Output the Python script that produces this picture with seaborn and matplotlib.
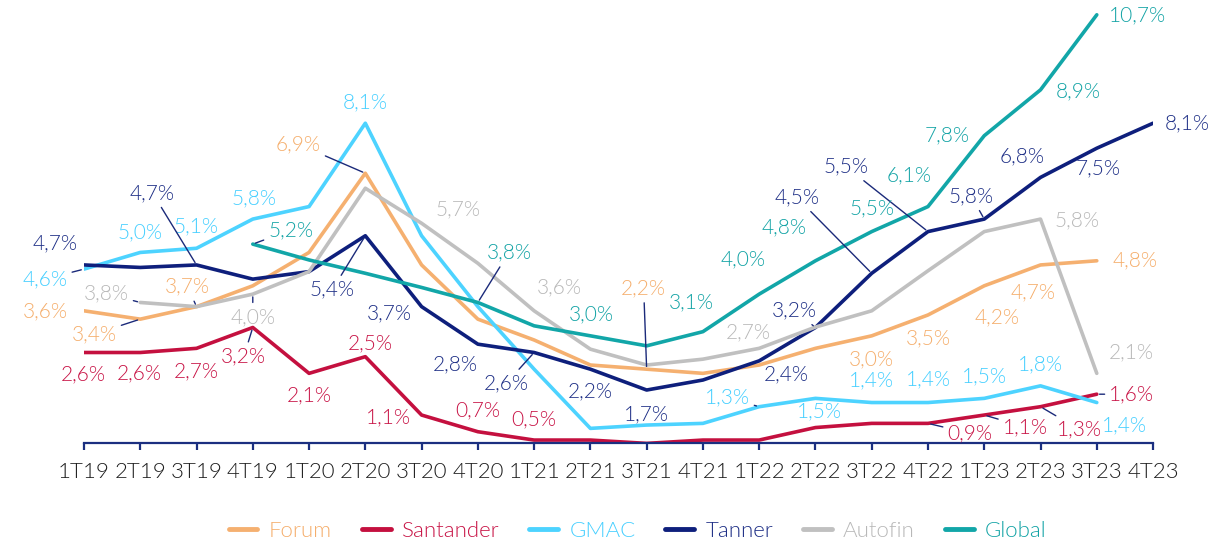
import numpy as np
import pandas as pd
import matplotlib
matplotlib.use("Agg")
import matplotlib.pyplot as plt
import seaborn as sns

# ================= datos =================
quarters = ["1T19", "2T19", "3T19", "4T19", "1T20", "2T20", "3T20", "4T20",
            "1T21", "2T21", "3T21", "4T21", "1T22", "2T22", "3T22", "4T22",
            "1T23", "2T23", "3T23", "4T23"]
nan = np.nan
forum = [3.6, 3.4, 3.7, 4.2, 5.0, 6.9, 4.7, 3.4, 2.9, 2.3, 2.2, 2.1,
         2.3, 2.7, 3.0, 3.5, 4.2, 4.7, 4.8, nan]
santander = [2.6, 2.6, 2.7, 3.2, 2.1, 2.5, 1.1, 0.7, 0.5, 0.5, 0.42, 0.5,
             0.5, 0.8, 0.9, 0.9, 1.1, 1.3, 1.6, nan]
gmac = [4.6, 5.0, 5.1, 5.8, 6.1, 8.1, 5.4, 3.7, 2.2, 0.78, 0.86, 0.9,
        1.3, 1.5, 1.4, 1.4, 1.5, 1.8, 1.4, nan]
tanner = [4.7, 4.64, 4.7, 4.36, 4.54, 5.4, 3.7, 2.8, 2.6, 2.2, 1.7, 1.94,
          2.4, 3.2, 4.5, 5.5, 5.8, 6.8, 7.5, 8.1]
autofin = [nan, 3.8, 3.7, 4.0, 4.54, 6.54, 5.7, 4.74, 3.6, 2.68, 2.3, 2.44,
           2.7, 3.21, 3.6, 4.56, 5.5, 5.8, 2.1, nan]
global_ = [nan, nan, nan, 5.2, 4.82, 4.5, 4.16, 3.8, 3.24, 3.0, 2.76, 3.1,
           4.0, 4.8, 5.5, 6.1, 7.8, 8.9, 10.7, nan]

series = ["Forum", "Santander", "GMAC", "Tanner", "Autofin", "Global"]
values = [forum, santander, gmac, tanner, autofin, global_]
colors = ["#F5B070", "#C4103F", "#4DD3FF", "#0E1F7C", "#C0C0C0", "#12A6A8"]
text_colors = ["#F5AE6C", "#C81446", "#45CFFF", "#1E2F86", "#B8B8B8", "#12A3A5"]
LEADER = "#1B2A7A"
W = 300  # Lato Light

# etiquetas: (indice, dx, dy, linea guia)  -- desplazamientos en pixeles
label_pos = {
    "Forum": [(0, -39, 0, 0), (1, -46, -15, 1), (2, -9, 20, 1), (5, -67, 29, 1),
              (10, -3, 81, 1), (14, 0, -23, 0), (15, 0, -23, 0), (16, 13, -32, 0),
              (17, -7, -27, 0), (18, 38, 0, 0)],
    "Santander": [(0, -1, -22, 0), (1, -1, -21, 0), (2, 0, -23, 0), (3, -9, -29, 1),
                  (4, 0, -22, 0), (5, 5, 13, 0), (6, -33, -2, 0), (7, 0, 21, 0),
                  (8, 0, 21, 0), (15, 42, -10, 1), (16, 41, -12, 1), (17, 39, -23, 1),
                  (18, 35, 0, 1)],
    "GMAC": [(0, -39, -10, 1), (1, 0, 20, 0), (2, 0, 22, 0), (3, 1, 21, 0),
             (5, 0, 21, 0), (12, -32, 9, 1), (13, 4, -13, 0), (14, 0, 22, 0),
             (15, 0, 23, 0), (16, 0, 22, 0), (17, 0, 22, 0), (18, 28, -23, 0)],
    "Tanner": [(0, -29, 22, 0), (2, -44, 72, 1), (5, -33, -54, 1), (6, -32, -7, 0),
               (7, -23, -20, 0), (8, -28, -31, 1), (9, 0, -22, 0), (10, 0, -24, 0),
               (12, 27, -13, 0), (13, -21, 17, 1), (14, -75, 76, 1), (15, -82, 65, 1),
               (16, -13, 23, 1), (17, -18, 21, 0), (18, 1, -20, 0), (19, 34, 0, 0)],
    "Autofin": [(1, -34, 9, 1), (3, 0, -23, 1), (6, 36, 14, 0), (8, 25, 24, 0),
                (12, -11, 16, 0), (17, 37, -1, 0), (18, 34, 21, 0)],
    "Global": [(3, 38, 14, 1), (7, 31, 50, 1), (9, 1, 22, 0), (11, -12, 29, 0),
               (12, -16, 35, 0), (13, -31, 33, 0), (14, 0, 23, 0), (15, -19, 31, 0),
               (16, -37, 0, 0), (17, 38, -1, 0), (18, 41, -1, 0)],
}


def fmt(v):
    return f"{v:.1f}".replace(".", ",") + "%"


sns.set_style("white")
plt.rcParams["font.family"] = ["Lato", "DejaVu Sans"]

rows = []
for name, vals in zip(series, values):
    for i, v in enumerate(vals):
        rows.append({"pos": i, "valor": v, "serie": name})
df = pd.DataFrame(rows).dropna()

fig = plt.figure(figsize=(12.19, 5.45), dpi=100)
ax = fig.add_axes([0.0689, 0.1872, 0.877, 0.8086])

sns.lineplot(data=df, x="pos", y="valor", hue="serie", hue_order=series,
             palette=dict(zip(series, colors)), linewidth=2.6, legend=False, ax=ax)

ax.set_xlim(0, len(quarters) - 1)
ax.set_ylim(0.43, 11.0)
ax.set_xticks(range(len(quarters)))
ax.set_xticklabels(quarters, fontsize=16, color="#1E1E1E", fontweight=W)
ax.set_yticks([])
ax.set_xlabel("")
ax.set_ylabel("")
for s in ["top", "left", "right"]:
    ax.spines[s].set_visible(False)
ax.spines["bottom"].set_color("#1B2F80")
ax.spines["bottom"].set_linewidth(1.6)
ax.tick_params(axis="x", bottom=True, direction="out", length=5, width=1.6,
               color="#1B2F80", pad=9)

for name, vals, c in zip(series, values, text_colors):
    for i, dx, dy, lead in label_pos[name]:
        kw = {}
        if lead:
            kw["arrowprops"] = dict(arrowstyle="-", color=LEADER, lw=1.0,
                                    shrinkA=1, shrinkB=2)
        ax.annotate(fmt(vals[i]), xy=(i, vals[i]), xytext=(dx, dy),
                    textcoords="offset pixels", ha="center", va="center",
                    color=c, fontsize=15, fontweight=W,
                    annotation_clip=False, **kw)

handles = ax.get_lines()[:len(series)]
leg = fig.legend(handles, series, loc="center", bbox_to_anchor=(0.523, 0.026),
                 ncol=6, frameon=False, handlelength=1.3,
                 handletextpad=0.5, columnspacing=1.35,
                 prop={"size": 16, "weight": W})
for txt, line, c in zip(leg.get_texts(), leg.get_lines(), text_colors):
    txt.set_color(c)
    line.set_linewidth(3.5)
    line.set_solid_capstyle("round")

fig.savefig("out.png", dpi=100)
